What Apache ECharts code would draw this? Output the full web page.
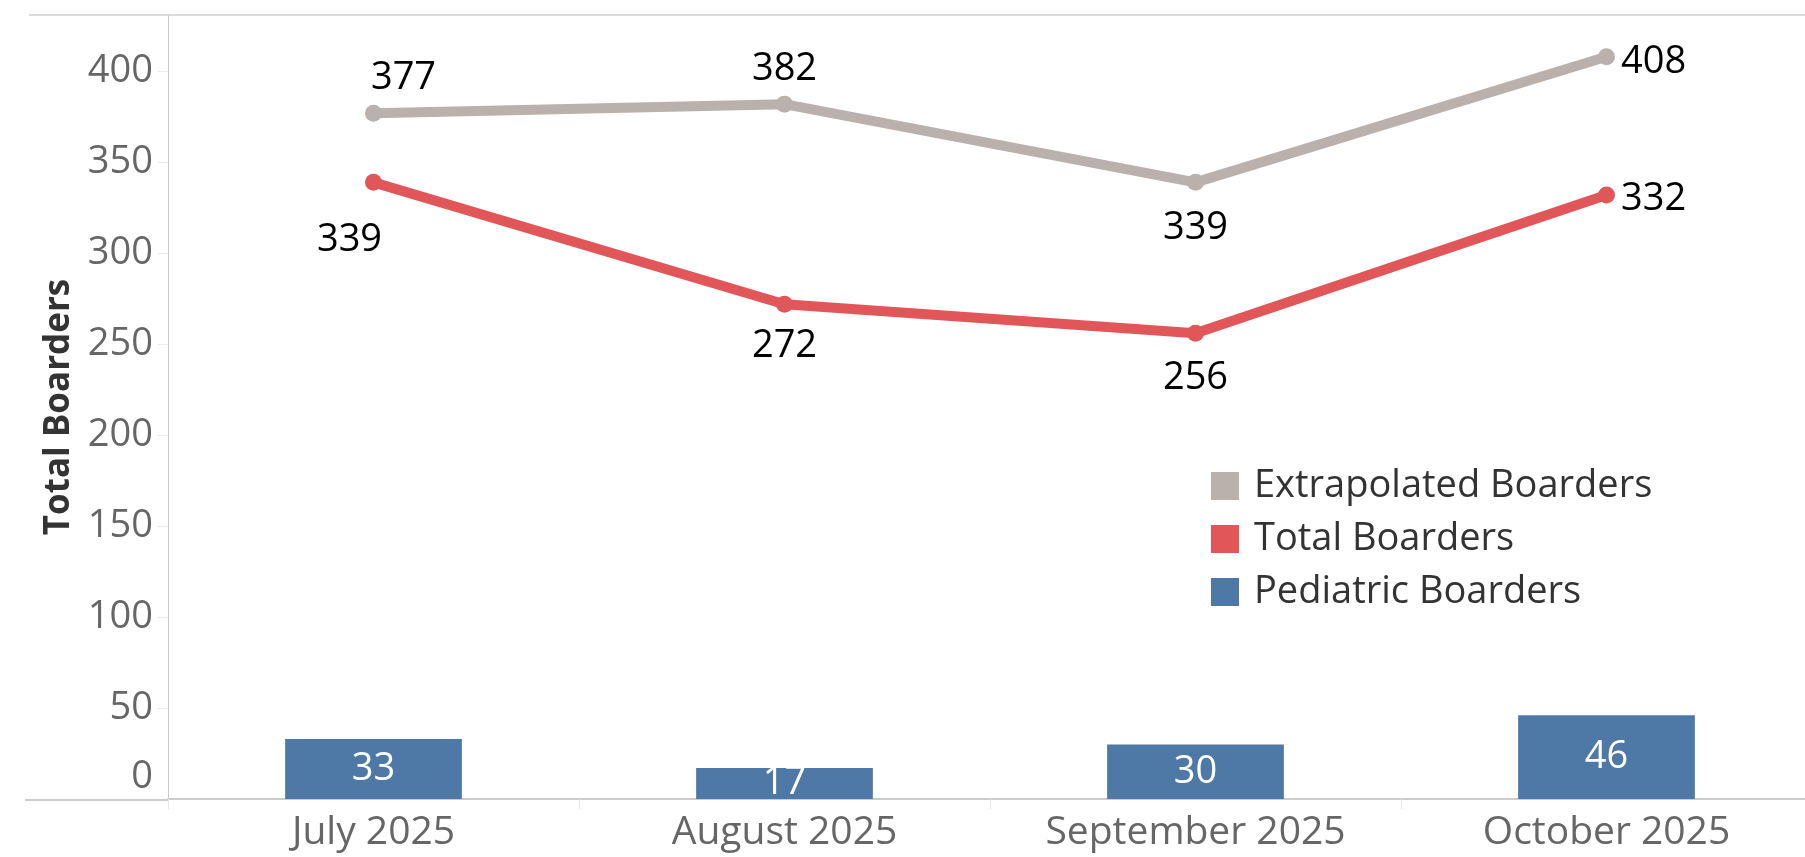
<!DOCTYPE html>
<html>
<head>
<meta charset="utf-8">
<script src="https://cdn.jsdelivr.net/npm/echarts@6/dist/echarts.min.js"></script>
<style>
html,body{margin:0;padding:0;background:#fff;}
#chart{width:1805px;height:857px;}
</style>
</head>
<body>
<div id="chart"></div>
<script>
// ---- data ----
const categories = ['July 2025', 'August 2025', 'September 2025', 'October 2025'];
const extrapolated = [377, 382, 339, 408];
const totalBoarders = [339, 272, 256, 332];
const pediatric = [33, 17, 30, 46];
const yTicks = { min: 0, max: 431, interval: 50 };

// label placement (style, not data)
const extrapLabelPos = [
  { position: 'top', distance: 8, offset: [30, 0] },
  { position: 'top', distance: 7, offset: [0, 0] },
  { position: 'bottom', distance: 18, offset: [0, 0] },
  { position: 'right', distance: 6, offset: [0, 5] }
];
const totalLabelPos = [
  { position: 'bottom', distance: 30, offset: [-24, 0] },
  { position: 'bottom', distance: 14, offset: [0, 0] },
  { position: 'bottom', distance: 17, offset: [0, 0] },
  { position: 'right', distance: 6, offset: [0, 4] }
];

const FONT = '"Open Sans", sans-serif';
const C_EXT = '#BAB0AC', C_TOT = '#E15759', C_PED = '#4E79A7';

const chart = echarts.init(document.getElementById('chart'), null, { renderer: 'canvas' });

function withLabels(values, pos) {
  return values.map((v, i) => ({
    value: v,
    label: { position: pos[i].position, distance: pos[i].distance, offset: pos[i].offset }
  }));
}

const labelStyle = { show: true, color: '#000', fontSize: 38, fontFamily: FONT };

chart.setOption({
  animation: false,
  backgroundColor: '#fff',
  grid: { left: 168, width: 1644, top: 15, bottom: 58, containLabel: false, outerBoundsMode: 'none' },
  legend: {
    orient: 'vertical',
    left: 1206,
    top: 462,
    icon: 'rect',
    itemWidth: 28,
    itemHeight: 28,
    itemGap: 15,
    data: ['Extrapolated Boarders', 'Total Boarders', 'Pediatric Boarders'],
    textStyle: { color: '#333', fontSize: 38, fontFamily: FONT, lineHeight: 38, padding: [0, 0, 0, 10] }
  },
  xAxis: {
    type: 'category',
    data: categories,
    boundaryGap: true,
    axisLine: { show: true, lineStyle: { color: '#cccccc', width: 2 } },
    axisTick: { show: true, length: 10, lineStyle: { color: '#e6e6e6', width: 1 } },
    axisLabel: { color: '#666', fontSize: 39, fontFamily: FONT, margin: 14 },
    splitLine: { show: false }
  },
  yAxis: {
    type: 'value',
    min: yTicks.min,
    max: yTicks.max,
    interval: yTicks.interval,
    name: 'Total Boarders',
    nameLocation: 'middle',
    nameGap: 88,
    nameTextStyle: { color: '#333', fontSize: 35, fontWeight: 'bold', fontFamily: FONT },
    axisLine: { show: true, lineStyle: { color: '#cccccc', width: 1 } },
    axisTick: { show: true, length: 10, lineStyle: { color: '#ebebeb', width: 1 } },
    axisLabel: {
      color: '#666', fontSize: 38, fontFamily: FONT, margin: 15, showMaxLabel: false,
      formatter: v => v === 0 ? '{z|0}' : String(v),
      rich: { z: { color: '#666', fontSize: 38, fontFamily: FONT, padding: [0, 0, 44, 0] } }
    },
    splitLine: { show: false }
  },
  graphic: [
    { type: 'line', shape: { x1: 29, y1: 15, x2: 1805, y2: 15 }, style: { stroke: '#d0d0d0', lineWidth: 1.5 }, z: 100 },
    { type: 'line', shape: { x1: 25, y1: 800, x2: 168, y2: 800 }, style: { stroke: '#cccccc', lineWidth: 2 }, z: 100 }
  ],
  series: [
    {
      name: 'Pediatric Boarders',
      type: 'bar',
      data: pediatric,
      barWidth: '43%',
      itemStyle: { color: C_PED },
      label: { show: true, position: 'inside', color: '#fff', fontSize: 38, fontFamily: FONT },
      z: 1
    },
    {
      name: 'Total Boarders',
      type: 'line',
      data: withLabels(totalBoarders, totalLabelPos),
      symbol: 'circle',
      symbolSize: 17,
      lineStyle: { color: C_TOT, width: 10 },
      itemStyle: { color: C_TOT },
      label: labelStyle,
      z: 3
    },
    {
      name: 'Extrapolated Boarders',
      type: 'line',
      data: withLabels(extrapolated, extrapLabelPos),
      symbol: 'circle',
      symbolSize: 17,
      lineStyle: { color: C_EXT, width: 10 },
      itemStyle: { color: C_EXT },
      label: labelStyle,
      z: 3
    }
  ]
});
</script>
</body>
</html>
